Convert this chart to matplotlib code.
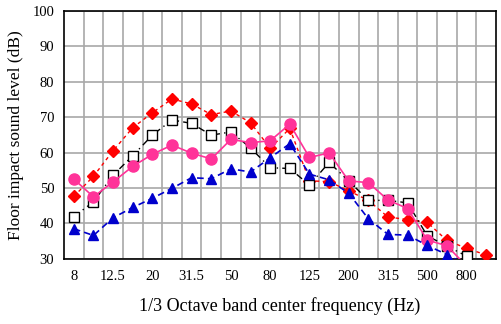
import matplotlib
matplotlib.use("Agg")
import matplotlib.pyplot as plt
import numpy as np

plt.rcParams['font.family'] = ['Liberation Serif', 'DejaVu Serif']

bands = ["8", "10", "12.5", "16", "20", "25", "31.5", "40", "50", "63", "80",
         "100", "125", "160", "200", "250", "315", "400", "500", "630", "800", "1000"]
tick_labels = ["8", "12.5", "20", "31.5", "50", "80", "125", "200", "315", "500", "800"]

red_diamond = [47.6, 53.3, 60.5, 67.0, 71.2, 75.1, 73.7, 70.7, 71.7, 68.4, 61.2,
               66.8, 52.0, 51.8, 49.2, 46.5, 41.8, 41.1, 40.3, 35.2, 33.0, 31.1]
black_square = [41.9, 46.1, 53.6, 59.1, 64.9, 69.2, 68.2, 64.9, 65.8, 61.3, 55.7,
                55.5, 50.8, 57.2, 52.0, 46.5, 46.5, 45.8, 36.5, 33.6, 30.8]
pink_circle = [52.5, 47.5, 51.7, 56.1, 59.5, 62.1, 59.8, 58.2, 63.7, 62.8, 63.3,
               68.0, 58.6, 59.9, 52.0, 51.5, 46.6, 44.2, 35.3, 33.7, 28.0]
blue_triangle = [38.5, 36.6, 41.6, 44.5, 47.1, 49.9, 52.9, 52.6, 55.4, 54.5, 58.5,
                 62.5, 53.9, 52.3, 48.5, 41.3, 36.9, 36.7, 33.8, 31.2, 28.3]

fig = plt.figure(figsize=(5.02, 3.24), dpi=100)
ax = fig.add_axes([0.1275, 0.201, 0.8605, 0.766])

x_all = np.arange(len(bands))

ax.plot(x_all[:len(red_diamond)], red_diamond, color='#FF0000', lw=1.0,
        linestyle=(0, (2.5, 2.5)), marker='D', ms=6, mfc='#FF0000', mec='#FF0000',
        zorder=3)
ax.plot(x_all[:len(black_square)], black_square, color='black', lw=1.0,
        linestyle=(0, (5, 3, 1, 3)), marker='s', ms=7, mfc='white', mec='black',
        mew=1.0, zorder=4)
ax.plot(x_all[:len(pink_circle)], pink_circle, color='#FF3399', lw=1.2,
        linestyle='-', marker='o', ms=8, mfc='#FF3399', mec='#FF3399', zorder=5)
ax.plot(x_all[:len(blue_triangle)], blue_triangle, color='#0000CC', lw=1.2,
        linestyle=(0, (4, 2.5)), marker='^', ms=7, mfc='#0000CC', mec='#0000CC',
        zorder=6)

ax.set_xlim(-0.5, len(bands) - 0.5)
ax.set_ylim(30, 100)
ax.set_yticks(np.arange(30, 101, 10))

ax.set_xticks(x_all[::2])
ax.set_xticklabels(tick_labels)
ax.set_xticks(np.arange(0.5, len(bands) - 1, 1), minor=True)
ax.tick_params(axis='both', which='both', length=0, labelsize=10.5)
ax.tick_params(axis='x', pad=8)
ax.tick_params(axis='y', pad=7)

ax.grid(True, which='minor', axis='x', color='#A8A8A8', lw=1.2, zorder=0)
ax.grid(True, which='major', axis='y', color='#A8A8A8', lw=1.2, zorder=0)
ax.grid(False, which='major', axis='x')
ax.set_axisbelow(True)

for s in ax.spines.values():
    s.set_linewidth(1.2)
    s.set_color('black')

ax.set_ylabel("Floor impact sound level (dB)", fontsize=12.5, labelpad=6)
ax.set_xlabel("1/3 Octave band center frequency (Hz)", fontsize=13, labelpad=10)

fig.savefig("out.png", dpi=100)
